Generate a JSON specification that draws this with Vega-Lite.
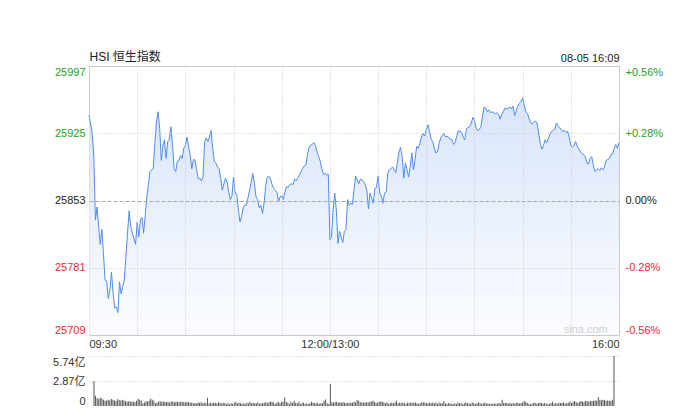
{
  "$schema": "https://vega.github.io/schema/vega-lite/v6.json",
  "description": "HSI intraday minute chart with volume bars.",
  "background": "white",
  "autosize": {"type": "pad"},
  "padding": {"left": 52, "top": 49, "right": 0, "bottom": 0},
  "spacing": 6,
  "config": {
    "font": "Liberation Sans, Noto Sans CJK SC",
    "view": {"stroke": null},
    "axis": {
      "labelFont": "Liberation Sans, Noto Sans CJK SC",
      "labelFontSize": 11,
      "labelColor": "#333333",
      "ticks": false,
      "domain": false,
      "title": null
    }
  },
  "datasets": {
    "hsi": [
      {"m":0,"p":25944,"v":2.85},{"m":1,"p":25935,"v":1.17},{"m":2,"p":25925,"v":0.9},{"m":3,"p":25900,"v":0.82},{"m":4,"p":25832,"v":0.95},
      {"m":5,"p":25846,"v":0.88},{"m":6,"p":25825,"v":0.71},{"m":7,"p":25806,"v":0.6},{"m":8,"p":25822,"v":0.64},{"m":9,"p":25796,"v":0.71},
      {"m":10,"p":25768,"v":0.64},{"m":11,"p":25767,"v":0.8},{"m":12,"p":25748,"v":0.71},{"m":13,"p":25757,"v":0.64},{"m":14,"p":25776,"v":0.56},
      {"m":15,"p":25754,"v":0.78},{"m":16,"p":25738,"v":0.68},{"m":17,"p":25739,"v":0.64},{"m":18,"p":25733,"v":0.71},{"m":19,"p":25766,"v":0.64},
      {"m":20,"p":25753,"v":0.55},{"m":21,"p":25761,"v":0.5},{"m":22,"p":25768,"v":0.55},{"m":23,"p":25793,"v":0.52},{"m":24,"p":25818,"v":0.46},
      {"m":25,"p":25842,"v":0.52},{"m":26,"p":25825,"v":0.44},{"m":27,"p":25818,"v":0.6},{"m":28,"p":25812,"v":0.82},{"m":29,"p":25806,"v":0.71},
      {"m":30,"p":25830,"v":0.6},{"m":31,"p":25814,"v":0.32},{"m":32,"p":25832,"v":0.4},{"m":33,"p":25835,"v":0.55},{"m":34,"p":25818,"v":0.52},
      {"m":35,"p":25837,"v":0.6},{"m":36,"p":25857,"v":0.82},{"m":37,"p":25870,"v":0.71},{"m":38,"p":25884,"v":0.6},{"m":39,"p":25886,"v":0.32},
      {"m":40,"p":25887,"v":0.4},{"m":41,"p":25914,"v":0.48},{"m":42,"p":25937,"v":0.58},{"m":43,"p":25948,"v":0.44},{"m":44,"p":25930,"v":0.52},
      {"m":45,"p":25896,"v":0.45},{"m":46,"p":25911,"v":0.42},{"m":47,"p":25918,"v":0.48},{"m":48,"p":25898,"v":0.36},{"m":49,"p":25916,"v":0.55},
      {"m":50,"p":25918,"v":0.5},{"m":51,"p":25932,"v":0.42},{"m":52,"p":25912,"v":0.5},{"m":53,"p":25887,"v":0.48},{"m":54,"p":25884,"v":0.42},
      {"m":55,"p":25895,"v":0.52},{"m":56,"p":25896,"v":0.45},{"m":57,"p":25901,"v":0.45},{"m":58,"p":25898,"v":0.4},{"m":59,"p":25909,"v":0.48},
      {"m":60,"p":25912,"v":0.44},{"m":61,"p":25921,"v":0.38},{"m":62,"p":25911,"v":0.4},{"m":63,"p":25902,"v":0.32},{"m":64,"p":25887,"v":0.34},
      {"m":65,"p":25897,"v":0.3},{"m":66,"p":25896,"v":0.4},{"m":67,"p":25886,"v":0.36},{"m":68,"p":25876,"v":0.42},{"m":69,"p":25877,"v":0.3},
      {"m":70,"p":25874,"v":0.38},{"m":71,"p":25878,"v":0.32},{"m":72,"p":25916,"v":0.95},{"m":73,"p":25920,"v":0.3},{"m":74,"p":25916,"v":0.36},
      {"m":75,"p":25921,"v":0.28},{"m":76,"p":25928,"v":0.4},{"m":77,"p":25909,"v":0.34},{"m":78,"p":25895,"v":0.3},{"m":79,"p":25893,"v":0.42},
      {"m":80,"p":25889,"v":0.36},{"m":81,"p":25887,"v":0.3},{"m":82,"p":25877,"v":0.38},{"m":83,"p":25864,"v":0.35},{"m":84,"p":25871,"v":0.23},
      {"m":85,"p":25877,"v":0.31},{"m":86,"p":25873,"v":0.2},{"m":87,"p":25862,"v":0.31},{"m":88,"p":25854,"v":0.23},{"m":89,"p":25858,"v":0.38},
      {"m":90,"p":25878,"v":0.5},{"m":91,"p":25861,"v":0.31},{"m":92,"p":25860,"v":0.38},{"m":93,"p":25843,"v":0.31},{"m":94,"p":25830,"v":0.23},
      {"m":95,"p":25836,"v":0.31},{"m":96,"p":25845,"v":0.23},{"m":97,"p":25848,"v":0.38},{"m":98,"p":25848,"v":0.31},{"m":99,"p":25856,"v":0.5},
      {"m":100,"p":25864,"v":0.31},{"m":101,"p":25873,"v":0.38},{"m":102,"p":25882,"v":0.31},{"m":103,"p":25871,"v":0.31},{"m":104,"p":25857,"v":0.42},
      {"m":105,"p":25854,"v":0.23},{"m":106,"p":25845,"v":0.31},{"m":107,"p":25848,"v":0.31},{"m":108,"p":25839,"v":0.38},{"m":109,"p":25850,"v":0.5},
      {"m":110,"p":25868,"v":0.31},{"m":111,"p":25878,"v":0.45},{"m":112,"p":25879,"v":0.5},{"m":113,"p":25876,"v":0.5},{"m":114,"p":25870,"v":0.38},
      {"m":115,"p":25866,"v":0.23},{"m":116,"p":25864,"v":0.38},{"m":117,"p":25862,"v":0.5},{"m":118,"p":25852,"v":0.31},{"m":119,"p":25857,"v":0.5},
      {"m":120,"p":25858,"v":0.5},{"m":121,"p":25854,"v":0.98},{"m":122,"p":25862,"v":0.5},{"m":123,"p":25868,"v":0.38},{"m":124,"p":25867,"v":0.23},
      {"m":125,"p":25870,"v":0.5},{"m":126,"p":25871,"v":0.31},{"m":127,"p":25870,"v":0.6},{"m":128,"p":25876,"v":0.38},{"m":129,"p":25874,"v":0.31},
      {"m":130,"p":25877,"v":0.5},{"m":131,"p":25880,"v":0.23},{"m":132,"p":25884,"v":0.31},{"m":133,"p":25887,"v":0.38},{"m":134,"p":25890,"v":0.23},
      {"m":135,"p":25891,"v":0.31},{"m":136,"p":25902,"v":0.23},{"m":137,"p":25910,"v":0.31},{"m":138,"p":25912,"v":0.5},{"m":139,"p":25913,"v":0.38},
      {"m":140,"p":25915,"v":0.31},{"m":141,"p":25912,"v":0.31},{"m":142,"p":25905,"v":0.38},{"m":143,"p":25900,"v":0.23},{"m":144,"p":25895,"v":0.31},
      {"m":145,"p":25887,"v":0.31},{"m":146,"p":25881,"v":0.6},{"m":147,"p":25882,"v":0.75},{"m":148,"p":25880,"v":0.31},{"m":149,"p":25881,"v":0.23},
      {"m":150,"p":25811,"v":2.55},{"m":151,"p":25814,"v":0.42},{"m":152,"p":25843,"v":0.38},{"m":153,"p":25861,"v":0.42},{"m":154,"p":25843,"v":0.5},
      {"m":155,"p":25807,"v":0.38},{"m":156,"p":25820,"v":0.42},{"m":157,"p":25814,"v":0.38},{"m":158,"p":25808,"v":0.42},{"m":159,"p":25820,"v":0.38},
      {"m":160,"p":25822,"v":0.31},{"m":161,"p":25854,"v":0.38},{"m":162,"p":25848,"v":0.31},{"m":163,"p":25850,"v":0.38},{"m":164,"p":25849,"v":0.38},
      {"m":165,"p":25864,"v":0.5},{"m":166,"p":25879,"v":0.4},{"m":167,"p":25875,"v":0.69},{"m":168,"p":25871,"v":0.6},{"m":169,"p":25876,"v":0.44},
      {"m":170,"p":25875,"v":0.4},{"m":171,"p":25873,"v":0.4},{"m":172,"p":25870,"v":0.4},{"m":173,"p":25864,"v":0.44},{"m":174,"p":25844,"v":0.4},
      {"m":175,"p":25861,"v":0.5},{"m":176,"p":25856,"v":0.52},{"m":177,"p":25850,"v":0.6},{"m":178,"p":25866,"v":0.5},{"m":179,"p":25867,"v":0.31},
      {"m":180,"p":25879,"v":0.4},{"m":181,"p":25861,"v":0.5},{"m":182,"p":25858,"v":0.5},{"m":183,"p":25850,"v":0.5},{"m":184,"p":25861,"v":0.4},
      {"m":185,"p":25862,"v":0.31},{"m":186,"p":25882,"v":0.4},{"m":187,"p":25886,"v":0.23},{"m":188,"p":25887,"v":0.31},{"m":189,"p":25889,"v":0.4},
      {"m":190,"p":25886,"v":0.31},{"m":191,"p":25883,"v":0.4},{"m":192,"p":25893,"v":0.6},{"m":193,"p":25905,"v":0.31},{"m":194,"p":25910,"v":0.4},
      {"m":195,"p":25900,"v":0.31},{"m":196,"p":25877,"v":0.4},{"m":197,"p":25893,"v":0.31},{"m":198,"p":25886,"v":0.23},{"m":199,"p":25878,"v":0.4},
      {"m":200,"p":25889,"v":0.31},{"m":201,"p":25904,"v":0.44},{"m":202,"p":25886,"v":0.31},{"m":203,"p":25896,"v":0.4},{"m":204,"p":25911,"v":0.4},
      {"m":205,"p":25909,"v":0.31},{"m":206,"p":25914,"v":0.23},{"m":207,"p":25921,"v":0.31},{"m":208,"p":25925,"v":0.4},{"m":209,"p":25922,"v":0.44},
      {"m":210,"p":25929,"v":0.4},{"m":211,"p":25934,"v":0.31},{"m":212,"p":25927,"v":0.31},{"m":213,"p":25919,"v":0.4},{"m":214,"p":25916,"v":0.31},
      {"m":215,"p":25909,"v":0.4},{"m":216,"p":25904,"v":0.31},{"m":217,"p":25905,"v":0.4},{"m":218,"p":25914,"v":0.23},{"m":219,"p":25920,"v":0.4},
      {"m":220,"p":25923,"v":0.31},{"m":221,"p":25925,"v":0.31},{"m":222,"p":25921,"v":0.57},{"m":223,"p":25922,"v":0.31},{"m":224,"p":25920,"v":0.23},
      {"m":225,"p":25919,"v":0.31},{"m":226,"p":25918,"v":0.31},{"m":227,"p":25913,"v":0.23},{"m":228,"p":25915,"v":0.23},{"m":229,"p":25922,"v":0.31},
      {"m":230,"p":25928,"v":0.23},{"m":231,"p":25927,"v":0.4},{"m":232,"p":25926,"v":0.31},{"m":233,"p":25921,"v":0.31},{"m":234,"p":25918,"v":0.23},
      {"m":235,"p":25930,"v":0.31},{"m":236,"p":25931,"v":0.4},{"m":237,"p":25932,"v":0.31},{"m":238,"p":25936,"v":0.31},{"m":239,"p":25942,"v":0.23},
      {"m":240,"p":25939,"v":0.4},{"m":241,"p":25931,"v":0.31},{"m":242,"p":25928,"v":0.23},{"m":243,"p":25929,"v":0.31},{"m":244,"p":25932,"v":0.4},
      {"m":245,"p":25943,"v":0.31},{"m":246,"p":25953,"v":0.23},{"m":247,"p":25952,"v":0.31},{"m":248,"p":25948,"v":0.4},{"m":249,"p":25950,"v":0.27},
      {"m":250,"p":25947,"v":0.31},{"m":251,"p":25948,"v":0.19},{"m":252,"p":25947,"v":0.27},{"m":253,"p":25946,"v":0.27},{"m":254,"p":25947,"v":0.3},
      {"m":255,"p":25945,"v":0.27},{"m":256,"p":25940,"v":0.27},{"m":257,"p":25945,"v":0.34},{"m":258,"p":25948,"v":0.27},{"m":259,"p":25952,"v":0.73},
      {"m":260,"p":25951,"v":0.38},{"m":261,"p":25952,"v":0.34},{"m":262,"p":25953,"v":0.34},{"m":263,"p":25951,"v":0.27},{"m":264,"p":25954,"v":0.34},
      {"m":265,"p":25944,"v":0.27},{"m":266,"p":25949,"v":0.34},{"m":267,"p":25954,"v":0.27},{"m":268,"p":25957,"v":0.38},{"m":269,"p":25959,"v":0.34},
      {"m":270,"p":25963,"v":0.3},{"m":271,"p":25955,"v":0.34},{"m":272,"p":25948,"v":0.4},{"m":273,"p":25946,"v":0.58},{"m":274,"p":25941,"v":0.46},
      {"m":275,"p":25936,"v":0.34},{"m":276,"p":25935,"v":0.27},{"m":277,"p":25937,"v":0.19},{"m":278,"p":25938,"v":0.27},{"m":279,"p":25936,"v":0.38},
      {"m":280,"p":25925,"v":0.34},{"m":281,"p":25914,"v":0.27},{"m":282,"p":25908,"v":0.34},{"m":283,"p":25912,"v":0.38},{"m":284,"p":25918,"v":0.34},
      {"m":285,"p":25915,"v":0.27},{"m":286,"p":25919,"v":0.34},{"m":287,"p":25924,"v":0.3},{"m":288,"p":25927,"v":0.19},{"m":289,"p":25928,"v":0.27},
      {"m":290,"p":25929,"v":0.34},{"m":291,"p":25936,"v":0.5},{"m":292,"p":25933,"v":0.27},{"m":293,"p":25931,"v":0.34},{"m":294,"p":25929,"v":0.27},
      {"m":295,"p":25927,"v":0.38},{"m":296,"p":25928,"v":0.34},{"m":297,"p":25926,"v":0.34},{"m":298,"p":25927,"v":0.42},{"m":299,"p":25921,"v":0.27},
      {"m":300,"p":25912,"v":0.34},{"m":301,"p":25910,"v":0.38},{"m":302,"p":25912,"v":0.53},{"m":303,"p":25916,"v":0.34},{"m":304,"p":25911,"v":0.46},
      {"m":305,"p":25908,"v":0.57},{"m":306,"p":25905,"v":0.46},{"m":307,"p":25903,"v":0.34},{"m":308,"p":25902,"v":0.46},{"m":309,"p":25900,"v":0.57},
      {"m":310,"p":25893,"v":0.5},{"m":311,"p":25892,"v":0.46},{"m":312,"p":25898,"v":0.57},{"m":313,"p":25900,"v":0.57},{"m":314,"p":25891,"v":0.5},
      {"m":315,"p":25884,"v":0.6},{"m":316,"p":25886,"v":0.57},{"m":317,"p":25887,"v":0.57},{"m":318,"p":25885,"v":0.65},{"m":319,"p":25888,"v":0.6},
      {"m":320,"p":25886,"v":1.03},{"m":321,"p":25889,"v":0.73},{"m":322,"p":25896,"v":0.65},{"m":323,"p":25897,"v":0.73},{"m":324,"p":25898,"v":0.69},
      {"m":325,"p":25902,"v":0.57},{"m":326,"p":25903,"v":0.65},{"m":327,"p":25909,"v":0.6},{"m":328,"p":25913,"v":0.57},{"m":329,"p":25909,"v":0.73},
      {"m":330,"p":25915,"v":5.74}
    ]
  },
  "data": {"name": "hsi"},
  "vconcat": [
    {
      "width": 530,
      "height": 269,
      "view": {"stroke": "#cccccc", "strokeWidth": 1},
      "layer": [
        {
          "mark": {
            "type": "area",
            "color": {
              "gradient": "linear",
              "x1": 0, "y1": 0, "x2": 0, "y2": 1,
              "stops": [
                {"offset": 0, "color": "#d9e5fa"},
                {"offset": 1, "color": "#fbfcff"}
              ]
            }
          },
          "encoding": {
            "x": {
              "field": "m",
              "type": "quantitative",
              "scale": {"domain": [0, 330], "nice": false, "zero": false},
              "axis": {
                "orient": "bottom",
                "zindex": 1,
                "values": [0, 30, 60, 90, 120, 150, 180, 210, 240, 270, 300, 330],
                "labelExpr": "datum.value == 0 ? '09:30' : datum.value == 150 ? '12:00/13:00' : datum.value == 330 ? '16:00' : ''",
                "labelFlush": true,
                "labelPadding": 3,
                "grid": true,
                "gridColor": "#c8c8c8",
                "gridDash": [1, 2]
              }
            },
            "y": {
              "field": "p",
              "type": "quantitative",
              "scale": {"domain": [25709, 25997], "nice": false, "zero": false},
              "axis": {
                "orient": "left",
                "zindex": 1,
                "values": [25709, 25781, 25853, 25925, 25997],
                "labelFlush": true,
                "labelPadding": 4,
                "format": "d",
                "labelColor": {
                  "condition": [
                    {"test": "datum.value > 25853", "value": "#22a322"},
                    {"test": "datum.value < 25853", "value": "#f0283c"}
                  ],
                  "value": "#222222"
                },
                "grid": true,
                "gridColor": {"condition": {"test": "datum.value == 25853", "value": "#a8a8a8"}, "value": "#c8c8c8"},
                "gridDash": {"condition": {"test": "datum.value == 25853", "value": [4, 2]}, "value": [1, 2]}
              }
            },
            "y2": {"datum": 25709}
          }
        },
        {
          "mark": {"type": "line", "color": "#4f8cf0", "strokeWidth": 1},
          "encoding": {
            "x": {
              "field": "m",
              "type": "quantitative",
              "scale": {"domain": [0, 330], "nice": false, "zero": false},
              "axis": {
                "orient": "top",
                "values": [0, 330],
                "labelExpr": "datum.value == 0 ? 'HSI 恒生指数' : '08-05 16:09'",
                "labelFlush": true,
                "labelPadding": 3,
                "labelFontSize": {"condition": {"test": "datum.value == 0", "value": 12}, "value": 11},
                "labelColor": "#222222",
                "grid": false
              }
            },
            "y": {
              "field": "p",
              "type": "quantitative",
              "scale": {"domain": [25709, 25997], "nice": false, "zero": false},
              "axis": {
                "orient": "right",
                "values": [25709, 25781, 25853, 25925, 25997],
                "labelFlush": true,
                "labelPadding": 6,
                "labelExpr": "(datum.value > 25853 ? '+' : datum.value < 25853 ? '-' : '') + format(abs(datum.value - 25853) / 25853 * 100, '.2f') + '%'",
                "labelColor": {
                  "condition": [
                    {"test": "datum.value > 25853", "value": "#22a322"},
                    {"test": "datum.value < 25853", "value": "#f0283c"}
                  ],
                  "value": "#222222"
                },
                "grid": false
              }
            }
          }
        },
        {
          "data": {"values": [{"label": "sina.com"}]},
          "mark": {"type": "text", "align": "right", "baseline": "middle", "fontSize": 11, "color": "#d0d0d0"},
          "encoding": {
            "x": {"datum": 323, "type": "quantitative", "scale": {"domain": [0, 330], "nice": false, "zero": false}, "axis": null},
            "y": {"datum": 25714, "type": "quantitative", "scale": {"domain": [25709, 25997], "nice": false, "zero": false}, "axis": null},
            "text": {"field": "label"}
          }
        }
      ],
      "resolve": {"axis": {"x": "independent", "y": "independent"}}
    },
    {
      "width": 530,
      "height": 50,
      "mark": {"type": "bar", "width": 1, "color": "#555555"},
      "encoding": {
        "x": {
          "field": "m",
          "type": "quantitative",
          "scale": {"domain": [0, 330], "nice": false, "zero": false},
          "axis": null
        },
        "y": {
          "field": "v",
          "type": "quantitative",
          "scale": {"domain": [0, 5.74], "nice": false},
          "axis": {
            "values": [0, 2.87, 5.74],
            "labelExpr": "datum.value == 0 ? '0' : format(datum.value, '.2f') + '亿'",
            "labelFlush": true,
            "labelPadding": 4,
            "grid": true,
            "gridColor": "#c8c8c8",
            "gridDash": [1, 2],
            "gridOpacity": {"condition": {"test": "datum.value == 0", "value": 0}, "value": 1}
          }
        }
      }
    }
  ]
}
